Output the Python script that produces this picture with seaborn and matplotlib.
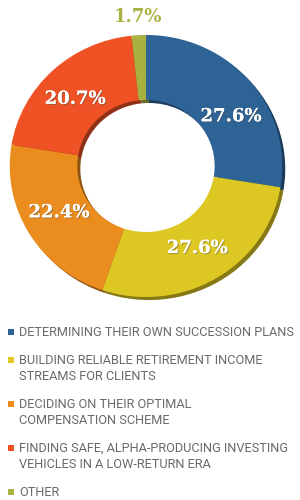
import matplotlib
matplotlib.use("Agg")
import matplotlib.pyplot as plt
import matplotlib.colors as mcolors
from matplotlib.font_manager import FontProperties
import matplotlib.patheffects as pe
import numpy as np
import seaborn as sns

# ---- data ----
categories = [
    "DETERMINING THEIR OWN SUCCESSION PLANS",
    "BUILDING RELIABLE RETIREMENT INCOME\nSTREAMS FOR CLIENTS",
    "DECIDING ON THEIR OPTIMAL\nCOMPENSATION SCHEME",
    "FINDING SAFE, ALPHA-PRODUCING INVESTING\nVEHICLES IN A LOW-RETURN ERA",
    "OTHER",
]
values = [27.6, 27.6, 22.4, 20.7, 1.7]
labels = ["27.6%", "27.6%", "22.4%", "20.7%", "1.7%"]
colors = ["#2E6396", "#DDC823", "#EA8C1E", "#EF5224", "#A9B140"]
label_angle_shift = [-9, 0, -2, 2, 0]

sns.set_theme(style="white")
legend_fp = FontProperties(family="Roboto", size=9.2)

fig = plt.figure(figsize=(3, 5), dpi=100)
W, H = 300, 500

ax = fig.add_axes([0, 0, 1, 1])
sx = 1.04  # horizontal stretch
cx, cy = 146 / sx, H - 166
R = 131
ring = 65
explode = [0.025] * len(values)

def darken(c, f=0.6):
    r, g, b = mcolors.to_rgb(c)
    return (r * f, g * f, b * f)

shadow_colors = [darken(c) for c in colors]

ax.pie(values, radius=R, center=(cx + 3 / sx, cy - 3), startangle=90, counterclock=False,
       explode=explode, colors=shadow_colors,
       wedgeprops=dict(width=ring, linewidth=0))
wedges, _ = ax.pie(values, radius=R, center=(cx, cy), startangle=90, counterclock=False,
                   explode=explode, colors=colors,
                   wedgeprops=dict(width=ring, linewidth=0))

ax.set_aspect("auto")
ax.set_xlim(0, W / sx)
ax.set_ylim(0, H)
ax.axis("off")

for w, lab, col, sh in zip(wedges, labels, colors, label_angle_shift):
    ang = np.deg2rad((w.theta1 + w.theta2) / 2 + sh)
    small = (w.theta2 - w.theta1) < 20
    r = R * (1.14 if small else 0.73)
    x = w.center[0] + r * np.cos(ang)
    y = w.center[1] + r * np.sin(ang)
    t = ax.text(x, y, lab, ha="center", va="center",
                fontsize=13, fontweight="bold", family="DejaVu Serif",
                color=col if small else "white")
    if not small:
        t.set_path_effects([pe.withSimplePatchShadow(offset=(0.8, -0.8), alpha=0.4),
                            pe.Normal()])

# legend (pixel coordinates)
lax = fig.add_axes([0, 0, 1, 1], facecolor="none")
lax.set_xlim(0, W)
lax.set_ylim(0, H)
lax.axis("off")
line_h = 16
gap = 12
y = H - 332
for cat, col in zip(categories, colors):
    lines = cat.split("\n")
    lax.scatter([11], [y], marker="s", s=22, color=col, linewidths=0)
    for i, ln in enumerate(lines):
        lax.text(19, y - i * line_h, ln, ha="left", va="center",
                 fontproperties=legend_fp, color="#6a6a6a")
    y -= len(lines) * line_h + gap

fig.savefig("out.png", dpi=100)
